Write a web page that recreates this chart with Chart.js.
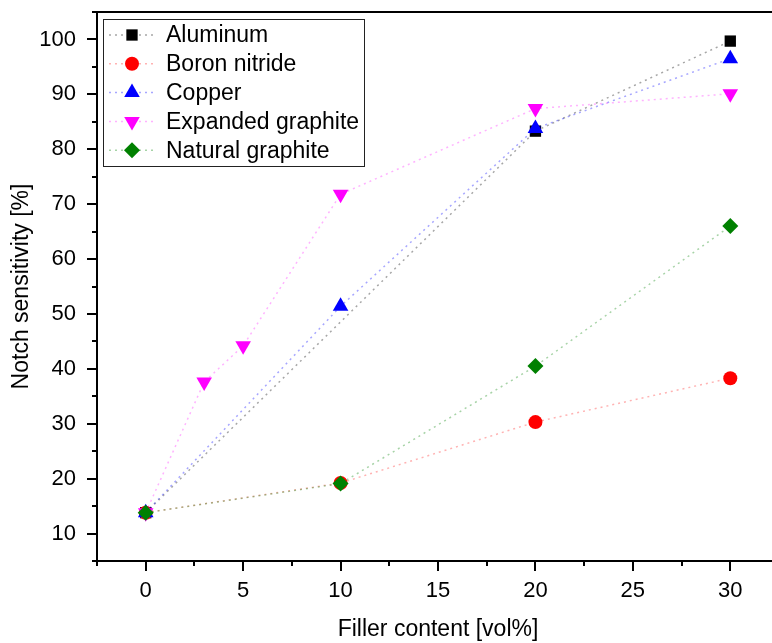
<!DOCTYPE html>
<html>
<head>
<meta charset="utf-8">
<script src="https://cdn.jsdelivr.net/npm/chart.js@4"></script>
<style>
  html, body { margin: 0; padding: 0; background: #fff; overflow: hidden; }
  #wrap { width: 790px; height: 643px; }
</style>
</head>
<body>
<div id="wrap"><canvas id="chart" width="790" height="643"></canvas></div>
<script>
// data
const seriesNames = ['Aluminum', 'Boron nitride', 'Copper', 'Expanded graphite', 'Natural graphite'];
const alX = [0, 20, 30];
const alY = [13.8, 83.3, 99.7];
const bnX = [0, 10, 20, 30];
const bnY = [13.8, 19.2, 30.3, 38.3];
const cuX = [0, 10, 20, 30];
const cuY = [13.8, 51.4, 83.8, 96.5];
const egX = [0, 3, 5, 10, 20, 30];
const egY = [13.8, 37.6, 44.2, 71.8, 87.4, 90.1];
const ngX = [0, 10, 20, 30];
const ngY = [13.8, 19.1, 40.5, 66.0];
const xTicks = [0, 5, 10, 15, 20, 25, 30];
const yTicks = [10, 20, 30, 40, 50, 60, 70, 80, 90, 100];

const colors = ['#000000', '#ff0000', '#0000ff', '#ff00ff', '#008000'];
const lineColors = ['rgba(0,0,0,0.35)', 'rgba(255,0,0,0.3)', 'rgba(0,0,255,0.35)', 'rgba(255,0,255,0.3)', 'rgba(0,128,0,0.35)'];
const shapes = ['rect', 'circle', 'triangle', 'triangle', 'rectRot'];
const rotations = [0, 0, 0, 180, 0];
const radii = [8, 7, 9, 9, 8];

const xs = [alX, bnX, cuX, egX, ngX];
const ys = [alY, bnY, cuY, egY, ngY];

const FONT = '"Liberation Sans", Arial, sans-serif';

const datasets = seriesNames.map((name, i) => ({
  label: name,
  data: xs[i].map((x, j) => ({ x: x, y: ys[i][j] })),
  showLine: true,
  borderColor: lineColors[i],
  borderWidth: 1.5,
  borderDash: [2, 4],
  backgroundColor: colors[i],
  pointBackgroundColor: colors[i],
  pointBorderColor: colors[i],
  pointBorderWidth: 0,
  pointStyle: shapes[i],
  pointRotation: rotations[i],
  pointRadius: radii[i],
  order: 5 - i
}));

// ticks (major + minor), frame and legend box, drawn on top of the scales
const decorations = {
  id: 'decorations',
  afterDraw(chart) {
    const ctx = chart.ctx;
    const a = chart.chartArea;
    const xs_ = chart.scales.x, ys_ = chart.scales.y;
    ctx.save();
    ctx.strokeStyle = '#000';
    ctx.lineWidth = 2;
    ctx.beginPath();
    ctx.moveTo(a.left, a.top); ctx.lineTo(a.right + 20, a.top);
    ctx.moveTo(a.left, a.top); ctx.lineTo(a.left, a.bottom);
    ctx.moveTo(a.left, a.bottom); ctx.lineTo(a.right + 20, a.bottom);
    ctx.stroke();

    ctx.lineWidth = 2;
    ctx.beginPath();
    for (let v = -2.5; v <= 32.5; v += 2.5) {
      const px = Math.round(xs_.getPixelForValue(v));
      const len = xTicks.includes(v) ? 10 : 5;
      ctx.moveTo(px, a.bottom); ctx.lineTo(px, a.bottom + len);
    }
    for (let v = 5; v <= 105; v += 5) {
      const py = Math.round(ys_.getPixelForValue(v));
      const len = yTicks.includes(v) ? 10 : 5;
      ctx.moveTo(a.left, py); ctx.lineTo(a.left - len, py);
    }
    ctx.stroke();

    // legend
    const lx = 103, ly = 19, lw = 261, lh = 147;
    ctx.lineWidth = 1;
    ctx.strokeStyle = '#222';
    ctx.strokeRect(lx + 0.5, ly + 0.5, lw, lh);
    ctx.font = '23px ' + FONT;
    ctx.textBaseline = 'middle';
    ctx.textAlign = 'left';
    chart.data.datasets.forEach((ds, i) => {
      const cy = 35 + i * 28.8;
      ctx.save();
      ctx.strokeStyle = ds.borderColor;
      ctx.lineWidth = 1.5;
      ctx.setLineDash(ds.borderDash);
      ctx.beginPath();
      ctx.moveTo(109, cy); ctx.lineTo(156, cy);
      ctx.stroke();
      ctx.restore();
      ctx.fillStyle = ds.pointBackgroundColor;
      Chart.helpers.drawPoint(ctx, {
        pointStyle: ds.pointStyle, rotation: ds.pointRotation,
        radius: ds.pointRadius, borderWidth: 0
      }, 132, cy);
      ctx.fillStyle = '#000';
      ctx.fillText(ds.label, 166, cy + 1);
    });
    ctx.restore();
  }
};

new Chart(document.getElementById('chart'), {
  type: 'scatter',
  data: { datasets: datasets },
  options: {
    responsive: false,
    animation: false,
    layout: { padding: { top: 12, right: 11, left: 0, bottom: 0 } },
    plugins: {
      legend: { display: false },
      tooltip: { enabled: false }
    },
    scales: {
      x: {
        type: 'linear',
        min: -2.5,
        max: 32.5,
        afterBuildTicks: scale => { scale.ticks = xTicks.map(v => ({ value: v })); },
        afterFit: scale => {
          scale.height = 82;
          scale.paddingLeft = 0;
          scale.paddingRight = 0;
        },
        grid: { display: false, drawTicks: false },
        border: { display: false },
        ticks: {
          color: '#000',
          padding: 17,
          font: { family: FONT, size: 22 },
          callback: v => String(v)
        },
        title: {
          display: true,
          text: 'Filler content [vol%]',
          color: '#000',
          font: { family: FONT, size: 23 },
          padding: { top: 4, bottom: 0 }
        }
      },
      y: {
        type: 'linear',
        min: 5,
        max: 105,
        afterBuildTicks: scale => { scale.ticks = yTicks.map(v => ({ value: v })); },
        afterFit: scale => {
          scale.width = 97;
          scale.paddingTop = 0;
          scale.paddingBottom = 0;
        },
        grid: { display: false, drawTicks: false },
        border: { display: false },
        ticks: {
          color: '#000',
          padding: 21,
          font: { family: FONT, size: 22 },
          callback: v => String(v)
        },
        title: {
          display: true,
          text: 'Notch sensitivity [%]',
          color: '#000',
          font: { family: FONT, size: 23 },
          padding: { top: 8, bottom: 0 }
        }
      }
    }
  },
  plugins: [decorations]
});
</script>
</body>
</html>
